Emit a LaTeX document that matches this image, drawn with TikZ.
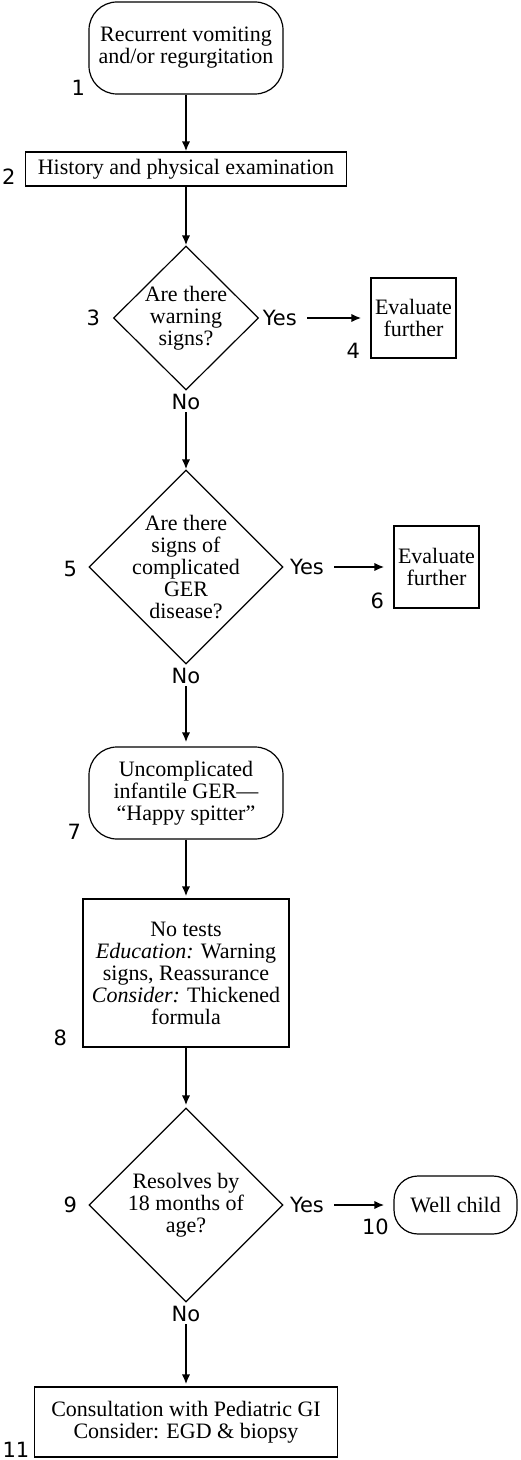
\documentclass[tikz,border=0pt]{standalone}
\usepackage{fontspec}
\setmainfont{Liberation Serif}
\newfontfamily\tagfont{DejaVu Sans}
\usepackage{tikz}
\usetikzlibrary{shapes.geometric, arrows, arrows.meta}
\tikzstyle{startstop} = [rectangle, rounded corners=14pt, text centered, align=center, draw=black, line width=0.6pt, minimum width=97pt, minimum height=46pt]
\tikzstyle{process} = [rectangle, text centered, align=center, draw=black, line width=0.6pt]
\tikzstyle{decision} = [diamond, draw=black, line width=0.6pt, inner sep=0pt, minimum width=97pt, minimum height=97pt]
\tikzstyle{qtext} = [align=center, inner sep=0pt]
\tikzstyle{tag} = [font=\tagfont\fontsize{10.5}{12}\selectfont, inner sep=0pt]
\tikzstyle{arrow} = [line width=1pt,->,>={Latex[length=5pt,width=4.2pt]}]
\tikzstyle{yesarrow} = [arrow, shorten <=5pt, shorten >=4.5pt]

\begin{document}
\begin{tikzpicture}[font=\fontsize{11}{11}\selectfont]

\useasboundingbox (0,0) rectangle (260pt,-730pt);

\node (n1) [startstop] at (93pt,-24pt) {Recurrent vomiting\\and/or regurgitation};
\node (n2) [process, node distance=60.5pt, below of=n1, minimum width=160.5pt, minimum height=17pt, inner ysep=2pt] {History and physical examination};

\node (q3) [decision, node distance=74.5pt, below of=n2, minimum width=72.5pt, minimum height=72pt] {};
\node (q3t) [qtext] at (q3) {Are there\\warning\\signs?};
\node (e4) [process, node distance=113.75pt, right of=q3, minimum width=42.5pt, minimum height=40pt, inner xsep=1pt] {Evaluate\\further};

\node (q5) [decision, node distance=124.5pt, below of=q3] {};
\node (q5t) [qtext] at (q5) {Are there\\signs of\\complicated\\GER\\disease?};
\node (e6) [process, node distance=125.25pt, right of=q5, minimum width=42.5pt, minimum height=41pt, inner xsep=1pt] {Evaluate\\further};

\node (n7) [startstop, node distance=113pt, below of=q5] {Uncomplicated\\infantile GER---\\``Happy spitter''};
\node (n8) [process, node distance=90pt, below of=n7, minimum width=103pt, minimum height=74pt] {No tests\\\textit{Education:} Warning\\signs, Reassurance\\\textit{Consider:} Thickened\\formula};

\node (q9) [decision, node distance=116pt, below of=n8] {};
\node (q9t) [qtext] at (q9) {Resolves by\\18 months of\\age?};
\node (w10) [startstop, node distance=134.75pt, right of=q9, rounded corners=12pt, minimum width=61.5pt, minimum height=29pt] {Well child};

\node (n11) [process, node distance=108.5pt, below of=q9, minimum width=151.5pt, minimum height=35pt] {Consultation with Pediatric GI\\Consider: EGD \& biopsy};

% yes / no
\node (yes3) [tag, anchor=west, xshift=1.7pt] at (q3.east) {Yes};
\node (yes5) [tag, anchor=west, xshift=3pt] at (q5.east) {Yes};
\node (yes9) [tag, anchor=west, xshift=3pt] at (q9.east) {Yes};
\node (no3) [tag, anchor=north, yshift=-1.5pt] at (q3.south) {No};
\node (no5) [tag, anchor=north, yshift=-1.5pt] at (q5.south) {No};
\node (no9) [tag, anchor=north, yshift=-1.5pt] at (q9.south) {No};

% step numbers
\node (num1) [tag, xshift=-5pt, yshift=3.5pt] at (n1.south west) {1};
\node (num2) [tag, xshift=-8pt, yshift=5pt] at (n2.south west) {2};
\node (num3) [tag, xshift=-9.75pt] at (q3.west) {3};
\node (num4) [tag, xshift=-8.5pt, yshift=4pt] at (e4.south west) {4};
\node (num5) [tag, xshift=-9pt, yshift=-1pt] at (q5.west) {5};
\node (num6) [tag, xshift=-8pt, yshift=4pt] at (e6.south west) {6};
\node (num7) [tag, xshift=-7pt, yshift=4pt] at (n7.south west) {7};
\node (num8) [tag, xshift=-11pt, yshift=5pt] at (n8.south west) {8};
\node (num9) [tag, xshift=-9pt] at (q9.west) {9};
\node (num10) [tag, xshift=-9pt, yshift=4pt] at (w10.south west) {10};
\node (num11) [tag, xshift=-9pt, yshift=4pt] at (n11.south west) {11};

\draw [arrow] (n1) -- (n2);
\draw [arrow] (n2) -- (q3);
\draw [yesarrow] (yes3) -- (e4);
\draw [arrow, shorten <=1pt] (no3) -- (q5);
\draw [yesarrow] (yes5) -- (e6);
\draw [arrow, shorten <=1pt, shorten >=2pt] (no5) -- (n7);
\draw [arrow, shorten >=1pt] (n7) -- (n8);
\draw [arrow, shorten >=1pt] (n8) -- (q9);
\draw [yesarrow] (yes9) -- (w10);
\draw [arrow, shorten <=1pt, shorten >=1pt] (no9) -- (n11);

\end{tikzpicture}
\end{document}
